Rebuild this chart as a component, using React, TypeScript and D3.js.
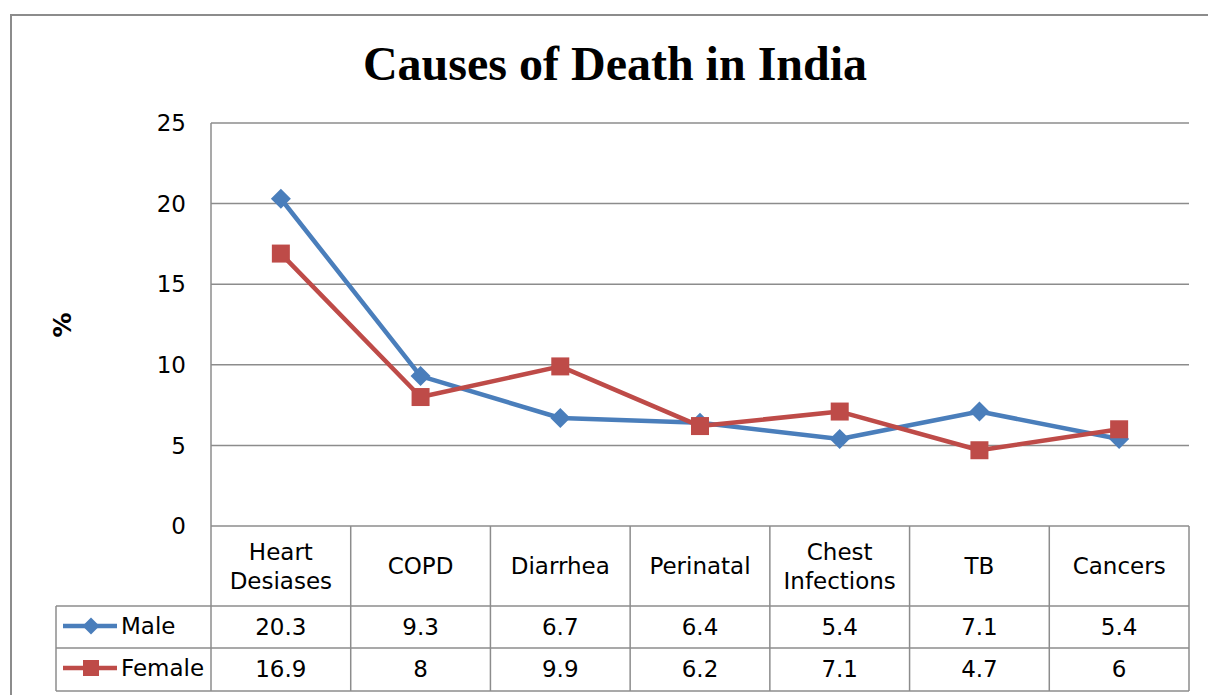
import React from "react";
import * as d3 from "d3";

const categories = ["Heart\nDesiases", "COPD", "Diarrhea", "Perinatal", "Chest\nInfections", "TB", "Cancers"];
const maleValues = [20.3, 9.3, 6.7, 6.4, 5.4, 7.1, 5.4];
const femaleValues = [16.9, 8, 9.9, 6.2, 7.1, 4.7, 6];
const femaleLabels = ["16.9", "8", "9.9", "6.2", "7.1", "4.7", "6"];
const maleLabels = ["20.3", "9.3", "6.7", "6.4", "5.4", "7.1", "5.4"];
const yTicks = [0, 5, 10, 15, 20, 25];
const seriesNames = ["Male", "Female"];

const W = 1208;
const H = 695;
const BLUE = "#4a7ebb";
const RED = "#be4b48";
const GRID = "#8c8c8c";
const FONT = "'DejaVu Sans', sans-serif";

export default function App() {
  const left = 211;
  const right = 1189;
  const top = 123;
  const bottom = 526;
  const x = d3.scaleBand<string>().domain(categories).range([left, right]).paddingInner(0).paddingOuter(0);
  const y = d3.scaleLinear().domain([0, 25]).range([bottom, top]);
  const cx = (c: string) => (x(c) as number) + x.bandwidth() / 2;

  const line = d3
    .line<number>()
    .x((_, i) => cx(categories[i]))
    .y((d) => y(d));

  const rowHeader = bottom;
  const rowMale = 606;
  const rowFemale = 648;
  const rowEnd = 691;
  const legendLeft = 56;

  const sq = (s: number) => `M${-s / 2},${-s / 2}h${s}v${s}h${-s}Z`;
  const dia = (d: number) => `M0,${-d / 2}L${d / 2},0L0,${d / 2}L${-d / 2},0Z`;

  const series = [
    { name: seriesNames[0], values: maleValues, labels: maleLabels, color: BLUE, marker: dia(20), legendMarker: dia(17), row: rowMale },
    { name: seriesNames[1], values: femaleValues, labels: femaleLabels, color: RED, marker: sq(18), legendMarker: sq(16), row: rowFemale },
  ];

  return (
    <svg width={W} height={H} style={{ position: "absolute", left: 0, top: 0, background: "#fff" }}>
      <rect x={0} y={0} width={W} height={H} fill="#fff" />
      <rect x={11} y={15} width={1220} height={720} fill="#fff" stroke={GRID} strokeWidth={2} />
      <text x={615} y={80} textAnchor="middle" fontFamily="'Liberation Serif', 'Times New Roman', serif" fontWeight="bold" fontSize={48}>
        Causes of Death in India
      </text>

      {/* gridlines */}
      {yTicks.map((t) => (
        <g key={t}>
          <line x1={left} x2={right} y1={y(t)} y2={y(t)} stroke={GRID} strokeWidth={1.5} />
          <text x={186} y={y(t)} dy="0.36em" textAnchor="end" fontFamily={FONT} fontSize={23}>
            {t}
          </text>
        </g>
      ))}
      <line x1={left} x2={left} y1={top} y2={rowEnd} stroke={GRID} strokeWidth={1.5} />
      <text transform="translate(62,325) rotate(-90)" textAnchor="middle" dy="0.35em" fontFamily={FONT} fontWeight="bold" fontSize={25}>
        %
      </text>

      {/* table grid */}
      {categories.map((c, i) => (
        <line key={"v" + i} x1={(x(c) as number) + x.bandwidth()} x2={(x(c) as number) + x.bandwidth()} y1={rowHeader} y2={rowEnd} stroke={GRID} strokeWidth={1.5} />
      ))}
      <line x1={legendLeft} x2={legendLeft} y1={rowMale} y2={rowEnd} stroke={GRID} strokeWidth={1.5} />
      {[rowMale, rowFemale, rowEnd].map((r) => (
        <line key={"h" + r} x1={legendLeft} x2={right} y1={r} y2={r} stroke={GRID} strokeWidth={1.5} />
      ))}

      {/* category labels */}
      {categories.map((c) => {
        const parts = c.split("\n");
        const mid = (rowHeader + rowMale) / 2;
        return (
          <text key={c} x={cx(c)} textAnchor="middle" fontFamily={FONT} fontSize={23}>
            {parts.map((p, j) => (
              <tspan key={j} x={cx(c)} y={mid + (j - (parts.length - 1) / 2) * 29} dy="0.36em">
                {p}
              </tspan>
            ))}
          </text>
        );
      })}

      {/* series */}
      {series.map((s) => (
        <g key={s.name}>
          <path d={line(s.values) as string} fill="none" stroke={s.color} strokeWidth={4.5} strokeLinejoin="round" />
          {s.values.map((v, i) => (
            <path key={i} d={s.marker} transform={`translate(${cx(categories[i])},${y(v)})`} fill={s.color} />
          ))}
          {/* legend */}
          <line x1={63} x2={117} y1={s.row + 20} y2={s.row + 20} stroke={s.color} strokeWidth={4.5} />
          <path d={s.legendMarker} transform={`translate(91,${s.row + 20})`} fill={s.color} />
          <text x={121} y={s.row + 20} dy="0.36em" fontFamily={FONT} fontSize={23}>
            {s.name}
          </text>
          {s.labels.map((l, i) => (
            <text key={"l" + i} x={cx(categories[i])} y={s.row + 21} dy="0.36em" textAnchor="middle" fontFamily={FONT} fontSize={23}>
              {l}
            </text>
          ))}
        </g>
      ))}
    </svg>
  );
}
